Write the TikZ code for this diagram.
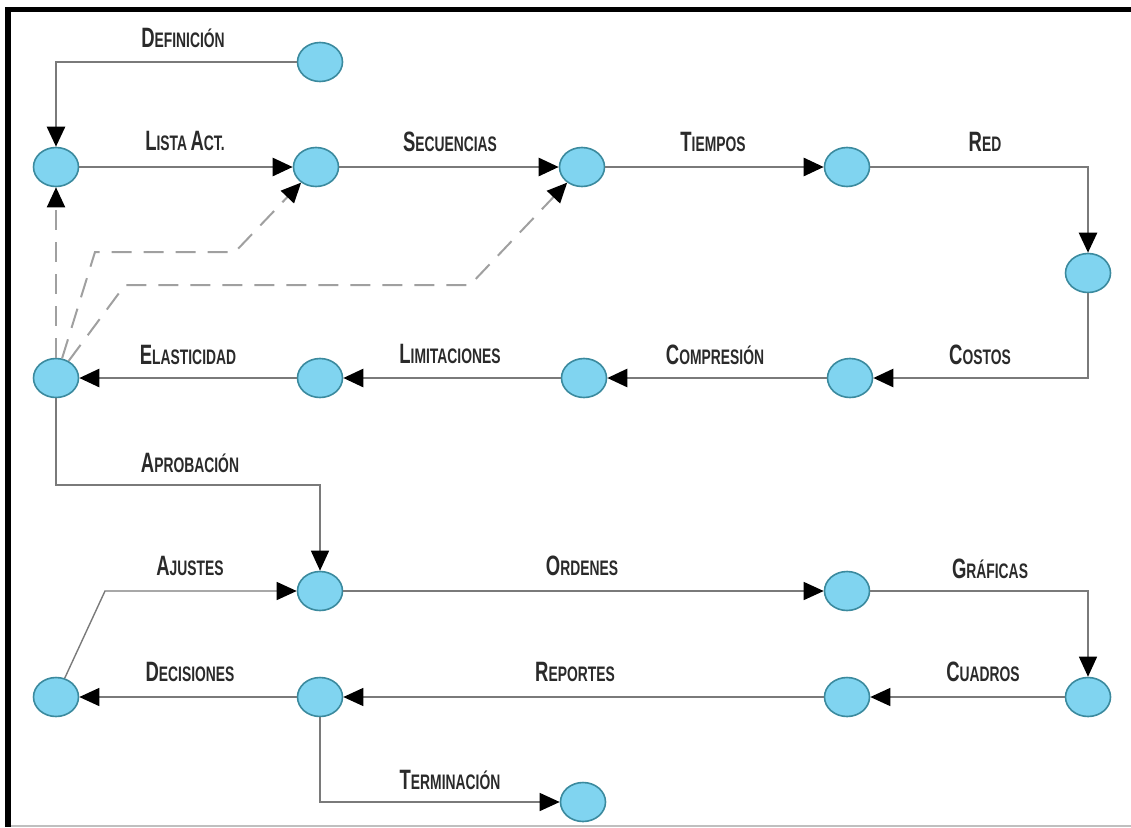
\documentclass[tikz,border=0pt]{standalone}
\usepackage{fontspec}
\usetikzlibrary{arrows.meta,shapes.geometric}
\newfontfamily\lblfont[FakeStretch=0.66]{Liberation Sans}
\newcommand\lblsc[2]{{\lblfont\bfseries\fontsize{28}{28}\selectfont #1}{\lblfont\bfseries\fontsize{21}{21}\selectfont #2}}
\definecolor{nodefill}{HTML}{80D4F0}
\definecolor{nodeline}{HTML}{3B8A9E}
\definecolor{linegray}{HTML}{7A7A7A}
\definecolor{dashgray}{HTML}{A0A0A0}
\definecolor{txt}{HTML}{2A2A2A}
\begin{document}
\begin{tikzpicture}[x=1pt,y=-1pt,
  ev/.style={ellipse,draw=nodeline,fill=nodefill,line width=1.6pt,minimum width=45pt,minimum height=39pt,inner sep=0pt},
  lb/.style={text=txt,inner sep=0pt,anchor=base},
  tip/.style={-{Triangle[length=20pt,width=18pt,color=black]}},
  thk/.style={draw=linegray,line width=2.6pt},
  thn/.style={draw=linegray,line width=1.4pt},
  dsh/.style={draw=dashgray,line width=2pt,dash pattern=on 20pt off 12pt}]
\useasboundingbox (0,0) rectangle (1131,827);
% frame
\fill[black] (5,7) rectangle (1131,12);
\fill[black] (5,7) rectangle (11,827);
\draw[gray!50,line width=1.2pt] (11,826) -- (1131,826);
% nodes
\node[ev] (def) at (320,62) {};
\node[ev] (n1) at (56,167) {};
\node[ev] (n2) at (316,167) {};
\node[ev] (n3) at (582,167) {};
\node[ev] (n4) at (847,167) {};
\node[ev] (n5) at (1088,273) {};
\node[ev] (n6) at (850,378) {};
\node[ev] (n7) at (584,378) {};
\node[ev] (n8) at (320,378) {};
\node[ev] (n9) at (56,378) {};
\node[ev] (n10) at (320,591) {};
\node[ev] (n11) at (847,591) {};
\node[ev] (n12) at (1088,697) {};
\node[ev] (n13) at (847,697) {};
\node[ev] (n14) at (320,697) {};
\node[ev] (n15) at (56,697) {};
\node[ev] (n16) at (583,802) {};
% connectors
\draw[thk,tip] (def) -| (n1);
\draw[thk,tip] (n1) -- (n2);
\draw[thk,tip] (n2) -- (n3);
\draw[thk,tip] (n3) -- (n4);
\draw[thk,tip] (n4) -| (n5);
\draw[thk,tip] (n5) |- (n6);
\draw[thk,tip] (n6) -- (n7);
\draw[thk,tip] (n7) -- (n8);
\draw[thk,tip] (n8) -- (n9);
\draw[dsh,tip] (n9) -- (n1);
\draw[dsh,tip] (n9) -- (95,252) -- (235,252) -- (n2);
\draw[dsh,tip] (n9) -- (125,285) -- (470,285) -- (n3);
\draw[thn,tip] (n9) -- (56,485) -| (n10);
\draw[thn,tip] (n10) -- (n11);
\draw[thn,tip] (n11) -| (n12);
\draw[thn,tip] (n12) -- (n13);
\draw[thn,tip] (n13) -- (n14);
\draw[thn,tip] (n14) -- (n15);
\draw[thn,tip] (n15) -- (105,591) -- (n10);
\draw[thn,tip] (n14) |- (n16);
% labels
\node[lb] (l1) at (183,47) {\lblsc{D}{EFINICIÓN}};
\node[lb] (l2) at (185,150) {\lblsc{L}{ISTA} \lblsc{A}{CT.}};
\node[lb] (l3) at (450,151) {\lblsc{S}{ECUENCIAS}};
\node[lb] (l4) at (713,151) {\lblsc{T}{IEMPOS}};
\node[lb] (l5) at (985,151) {\lblsc{R}{ED}};
\node[lb] (l6) at (980,364) {\lblsc{C}{OSTOS}};
\node[lb] (l7) at (715,364) {\lblsc{C}{OMPRESIÓN}};
\node[lb] (l8) at (450,363) {\lblsc{L}{IMITACIONES}};
\node[lb] (l9) at (188,364) {\lblsc{E}{LASTICIDAD}};
\node[lb] (l10) at (190,472) {\lblsc{A}{PROBACIÓN}};
\node[lb] (l11) at (190,575) {\lblsc{A}{JUSTES}};
\node[lb] (l12) at (582,575) {\lblsc{O}{RDENES}};
\node[lb] (l13) at (990,578) {\lblsc{G}{RÁFICAS}};
\node[lb] (l14) at (190,681) {\lblsc{D}{ECISIONES}};
\node[lb] (l15) at (575,681) {\lblsc{R}{EPORTES}};
\node[lb] (l16) at (983,681) {\lblsc{C}{UADROS}};
\node[lb] (l17) at (450,789) {\lblsc{T}{ERMINACIÓN}};
\end{tikzpicture}
\end{document}
